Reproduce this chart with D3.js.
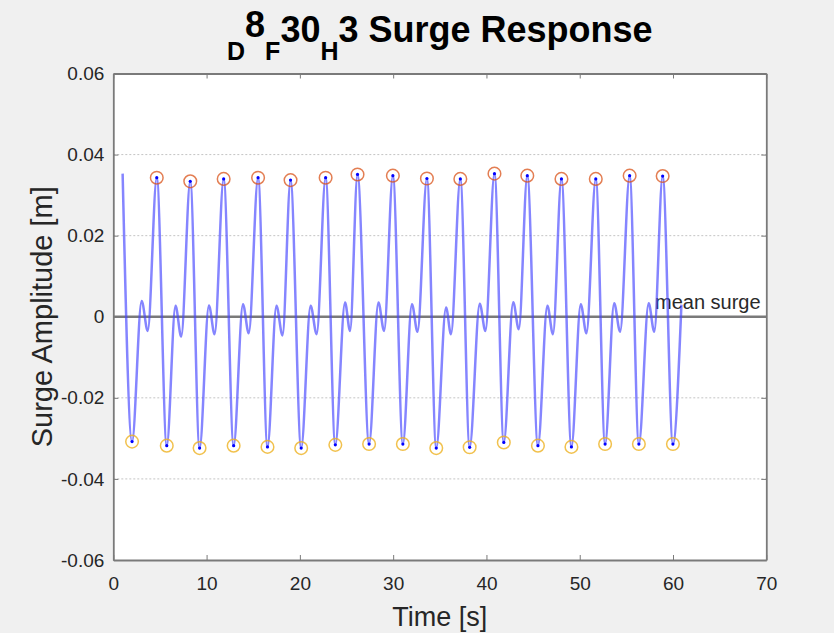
<!DOCTYPE html>
<html>
<head>
<meta charset="utf-8">
<script src="https://cdn.jsdelivr.net/npm/d3@7/dist/d3.min.js"></script>
<style>
  body { margin: 0; background: #f0f0f0; }
  text { font-family: "Liberation Sans", Arial, sans-serif; }
</style>
</head>
<body>
<svg id="chart" width="834" height="633"></svg>
<script>
// signal start / end
var startPoint = { t: 1.0, v: 0.0353 }
var endPoint = { t: 60.9, v: 0.0030 }

// peaks (red circles)
var peakTimes  = [4.66, 8.25, 11.83, 15.52, 19.0, 22.76, 26.18, 29.97, 33.62, 37.2, 40.86, 44.38, 48.04, 51.72, 55.35, 58.89]
var peakValues = [0.0343, 0.0334, 0.0340, 0.0343, 0.0337, 0.0343, 0.0351, 0.0348, 0.0341, 0.0340, 0.0353, 0.0348, 0.0340, 0.0340, 0.0348, 0.0347]

// troughs (yellow circles)
var troughTimes  = [2.01, 5.73, 9.25, 12.9, 16.53, 20.14, 23.8, 27.42, 31.04, 34.62, 38.2, 41.86, 45.52, 49.11, 52.72, 56.34, 59.99]
var troughValues = [-0.0308, -0.0318, -0.0324, -0.0318, -0.0321, -0.0324, -0.0316, -0.0314, -0.0314, -0.0324, -0.0322, -0.0310, -0.0318, -0.0321, -0.0314, -0.0314, -0.0314]

// small humps and dips near the mean
var humpTimes  = [3.04, 6.67, 10.25, 13.9, 17.49, 21.15, 24.84, 28.42, 32.01, 35.67, 39.28, 42.87, 46.53, 50.11, 53.69, 57.39]
var humpValues = [0.0039, 0.0027, 0.0028, 0.0031, 0.0027, 0.0027, 0.0035, 0.0035, 0.0031, 0.0023, 0.0032, 0.0036, 0.0027, 0.0031, 0.0033, 0.0033]
var dipTimes  = [3.69, 7.28, 10.86, 14.52, 18.14, 21.8, 25.38, 29.03, 32.61, 36.2, 39.89, 43.47, 47.13, 50.72, 54.33, 57.99]
var dipValues = [-0.0035, -0.0049, -0.0043, -0.0041, -0.0046, -0.0043, -0.0035, -0.0035, -0.0037, -0.0043, -0.0035, -0.0031, -0.0043, -0.0041, -0.0037, -0.0037]

var xTicks = [0, 10, 20, 30, 40, 50, 60, 70]
var yTicks = [-0.06, -0.04, -0.02, 0, 0.02, 0.04, 0.06]
var yTickLabels = ["-0.06", "-0.04", "-0.02", "0", "0.02", "0.04", "0.06"]
var meanSurge = 0

var mLeft = 113.3, mRight = 766.3, mTop = 73.5, mBottom = 560

var svg = d3.select("#chart")

var x = d3.scaleLinear().domain([0, 70]).range([mLeft, mRight])
var y = d3.scaleLinear().domain([-0.06, 0.06]).range([mBottom, mTop])

svg.append("rect")
  .attr("x", mLeft).attr("y", mTop)
  .attr("width", mRight - mLeft).attr("height", mBottom - mTop)
  .attr("fill", "#fff")

// dotted grid
svg.append("g").selectAll("line")
    .data(yTicks.filter(d => d != 0 && Math.abs(d) < 0.06))
  .enter().append("line")
    .attr("x1", mLeft).attr("x2", mRight)
    .attr("y1", d => y(d)).attr("y2", d => y(d))
    .attr("stroke", "#c4c4c4")
    .attr("stroke-width", 1)
    .attr("stroke-dasharray", "2,2")

// axes
var fmtY = d => yTickLabels[yTicks.indexOf(d)]
svg.append("g")
  .attr("class", "axis x")
  .attr("transform", "translate(0," + mBottom + ")")
  .call(d3.axisBottom(x).tickValues(xTicks).tickSizeInner(-5).tickSizeOuter(0).tickPadding(17))
svg.append("g")
  .attr("class", "axis xtop")
  .attr("transform", "translate(0," + mTop + ")")
  .call(d3.axisTop(x).tickValues(xTicks).tickSizeInner(-5).tickSizeOuter(0).tickFormat(""))
svg.append("g")
  .attr("class", "axis y")
  .attr("transform", "translate(" + mLeft + ",0)")
  .call(d3.axisLeft(y).tickValues(yTicks).tickFormat(fmtY).tickSizeInner(-5).tickSizeOuter(0).tickPadding(9))
svg.append("g")
  .attr("class", "axis yright")
  .attr("transform", "translate(" + mRight + ",0)")
  .call(d3.axisRight(y).tickValues(yTicks).tickSizeInner(-5).tickSizeOuter(0).tickFormat(""))

svg.selectAll(".axis path").attr("stroke", "#7a7a7a").attr("stroke-width", 1.8)
svg.selectAll(".axis line").attr("stroke", "#7a7a7a")
svg.selectAll(".axis text").attr("fill", "#262626").style("font-size", "19px")
  .style("font-family", "Liberation Sans, Arial, sans-serif")

// mean surge line
svg.append("line")
  .attr("x1", mLeft).attr("x2", mRight)
  .attr("y1", y(meanSurge)).attr("y2", y(meanSurge))
  .attr("stroke", "#7a7a7a")
  .attr("stroke-width", 2.5)

svg.append("text")
  .attr("x", 655).attr("y", y(meanSurge) - 8)
  .attr("fill", "#2a2a2a")
  .style("font-size", "20px")
  .text("mean surge")

// surge signal
var pts = [startPoint]
peakTimes.forEach((t, i) => pts.push({ t: t, v: peakValues[i] }))
troughTimes.forEach((t, i) => pts.push({ t: t, v: troughValues[i] }))
humpTimes.forEach((t, i) => pts.push({ t: t, v: humpValues[i] }))
dipTimes.forEach((t, i) => pts.push({ t: t, v: dipValues[i] }))
pts.push(endPoint)
pts.sort((a, b) => a.t - b.t)

var line = d3.line()
  .x(d => x(d.t))
  .y(d => y(d.v))
  .curve(d3.curveMonotoneX)

svg.append("path")
  .datum(pts)
  .attr("fill", "none")
  .attr("stroke", "#4444ff")
  .attr("stroke-opacity", 0.65)
  .attr("stroke-width", 2.5)
  .attr("d", line)

// markers
var peaks = peakTimes.map((t, i) => ({ t: t, v: peakValues[i] }))
var troughs = troughTimes.map((t, i) => ({ t: t, v: troughValues[i] }))

svg.append("g").selectAll("circle")
    .data(peaks.concat(troughs))
  .enter().append("circle")
    .attr("cx", d => x(d.t)).attr("cy", d => y(d.v))
    .attr("r", 1.6)
    .attr("fill", "#0000ff")

svg.append("g").selectAll("circle")
    .data(peaks)
  .enter().append("circle")
    .attr("cx", d => x(d.t)).attr("cy", d => y(d.v))
    .attr("r", 6.3)
    .attr("fill", "none")
    .attr("stroke", "#D95319")
    .attr("stroke-opacity", 0.75)
    .attr("stroke-width", 1.5)

svg.append("g").selectAll("circle")
    .data(troughs)
  .enter().append("circle")
    .attr("cx", d => x(d.t)).attr("cy", d => y(d.v))
    .attr("r", 6.3)
    .attr("fill", "none")
    .attr("stroke", "#EDB120")
    .attr("stroke-opacity", 0.8)
    .attr("stroke-width", 1.5)

// axis labels
svg.append("text")
  .attr("x", (mLeft + mRight) / 2).attr("y", 626)
  .attr("text-anchor", "middle")
  .attr("fill", "#262626")
  .style("font-size", "27px")
  .text("Time [s]")

svg.append("text")
  .attr("transform", "translate(52," + (mTop + mBottom) / 2 + ") rotate(-90)")
  .attr("text-anchor", "middle")
  .attr("fill", "#262626")
  .style("font-size", "29px")
  .text("Surge Amplitude [m]")

// title
var title = svg.append("text")
  .attr("x", (mLeft + mRight) / 2).attr("y", 42)
  .attr("text-anchor", "middle")
  .attr("fill", "#000")
  .style("font-size", "36px")
  .style("font-weight", "bold")
title.append("tspan").attr("dy", 18).style("font-size", "25px").text("D")
title.append("tspan").attr("dy", -23).text("8")
title.append("tspan").attr("dy", 23).style("font-size", "25px").text("F")
title.append("tspan").attr("dy", -18).text("30")
title.append("tspan").attr("dy", 18).style("font-size", "25px").text("H")
title.append("tspan").attr("dy", -18).text("3 Surge Response")
</script>
</body>
</html>
